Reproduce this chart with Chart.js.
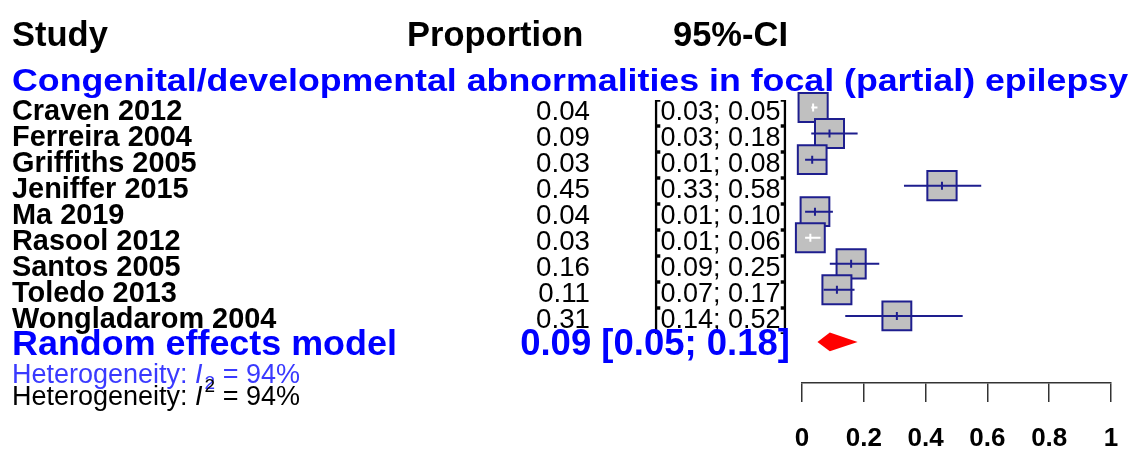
<!DOCTYPE html>
<html>
<head>
<meta charset="utf-8">
<script src="https://cdn.jsdelivr.net/npm/chart.js"></script>
<style>
  html, body { margin: 0; padding: 0; background: #fff; }
  canvas { display: block; }
</style>
</head>
<body>
<canvas id="forest" width="1141" height="449"></canvas>
<script>
// study data
const studies = ['Craven 2012', 'Ferreira 2004', 'Griffiths 2005', 'Jeniffer 2015', 'Ma 2019',
                 'Rasool 2012', 'Santos 2005', 'Toledo 2013', 'Wongladarom 2004'];
const proportions = [0.036, 0.089, 0.033, 0.453, 0.042, 0.027, 0.159, 0.113, 0.307];
const ciLower = [0.03, 0.03, 0.01, 0.33, 0.01, 0.01, 0.09, 0.07, 0.14];
const ciUpper = [0.05, 0.18, 0.08, 0.58, 0.10, 0.06, 0.25, 0.17, 0.52];
const weights = [11.2, 11.1, 10.9, 11.3, 10.9, 11.0, 11.2, 11.1, 11.0];

const pooled = { est: 0.09, lower: 0.05, upper: 0.18 };
const heterogeneityI2 = 94;

const xTicks = [0, 0.2, 0.4, 0.6, 0.8, 1];
const xTickLabels = ['0', '0.2', '0.4', '0.6', '0.8', '1'];

const FONT = '"Liberation Sans", Arial, sans-serif';
const NAVY = '#1e1e8e';
const BLUE = '#0000ff';

const summaryRow = studies.length;

const fmt = v => v.toFixed(2);

function drawText(ctx, str, x, y, opts) {
    ctx.save();
    ctx.font = opts.font;
    ctx.fillStyle = opts.color || '#000';
    ctx.textBaseline = 'alphabetic';
    ctx.textAlign = opts.align || 'left';
    let sx = 1;
    if (opts.width) {
        sx = opts.width / ctx.measureText(str).width;
    }
    ctx.translate(x, y);
    ctx.scale(sx, 1);
    ctx.fillText(str, 0, 0);
    ctx.restore();
}

// heterogeneity line: "Heterogeneity: I^2 = 94%" with sub or superscript
function drawHetero(ctx, x, y, color, sub) {
    const size = 27;
    ctx.save();
    ctx.fillStyle = color;
    ctx.textBaseline = 'alphabetic';
    ctx.font = size + 'px ' + FONT;
    let cx = x;
    const first = 'Heterogeneity: ';
    ctx.fillText(first, cx, y);
    cx += ctx.measureText(first).width;
    ctx.font = 'italic ' + size + 'px ' + FONT;
    ctx.fillText('I', cx, y);
    cx += ctx.measureText('I').width + 2;
    ctx.font = Math.round(size * 0.7) + 'px ' + FONT;
    ctx.fillText('2', cx, sub ? y + 6 : y - 13);
    cx += ctx.measureText('2').width;
    ctx.font = size + 'px ' + FONT;
    ctx.fillText(' = ' + heterogeneityI2 + '%', cx, y);
    ctx.restore();
}

const textPlugin = {
    id: 'forestText',
    beforeDatasetsDraw(chart) {
        const ctx = chart.ctx;
        const y = chart.scales.y;

        // column headers
        const hFont = 'bold 34.5px ' + FONT;
        drawText(ctx, 'Study', 12, 46, { font: hFont });
        drawText(ctx, 'Proportion', 407, 46, { font: hFont });
        drawText(ctx, '95%-CI', 788, 46, { font: hFont, align: 'right' });

        // subgroup title
        drawText(ctx, 'Congenital/developmental abnormalities in focal (partial) epilepsy', 12, 91,
                 { font: 'bold 32px ' + FONT, color: BLUE, width: 1116 });

        studies.forEach((name, i) => {
            const base = y.getPixelForValue(i) + 12;
            drawText(ctx, name, 12, base, { font: 'bold 28.9px ' + FONT });
            drawText(ctx, fmt(proportions[i]), 590, base, { font: '27.7px ' + FONT, align: 'right' });
            drawText(ctx, '[' + fmt(ciLower[i]) + '; ' + fmt(ciUpper[i]) + ']', 788, base,
                     { font: '27px ' + FONT, align: 'right' });
        });

        const sBase = y.getPixelForValue(summaryRow) + 13;
        drawText(ctx, 'Random effects model', 12, sBase, { font: 'bold 35.9px ' + FONT, color: BLUE });
        drawText(ctx, fmt(pooled.est) + ' [' + fmt(pooled.lower) + '; ' + fmt(pooled.upper) + ']', 790, sBase,
                 { font: 'bold 36.5px ' + FONT, color: BLUE, align: 'right' });

        drawHetero(ctx, 12, 383, '#3a3aff', true);
        drawHetero(ctx, 12, 405, '#000', false);
    }
};

const whiskerPlugin = {
    id: 'forestWhiskers',
    afterDatasetsDraw(chart) {
        const ctx = chart.ctx;
        const x = chart.scales.x;
        const y = chart.scales.y;
        const meta = chart.getDatasetMeta(0);

        ctx.save();
        ctx.lineWidth = 2;
        studies.forEach((name, i) => {
            const py = y.getPixelForValue(i);
            const x0 = x.getPixelForValue(ciLower[i]);
            const x1 = x.getPixelForValue(ciUpper[i]);
            const px = x.getPixelForValue(proportions[i]);
            const half = meta.data[i].options.radius * Math.SQRT1_2;
            const inside = x0 >= px - half && x1 <= px + half;
            ctx.strokeStyle = inside ? '#ffffff' : NAVY;
            ctx.beginPath();
            ctx.moveTo(x0, py);
            ctx.lineTo(x1, py);
            ctx.moveTo(px, py - 4);
            ctx.lineTo(px, py + 4);
            ctx.stroke();
        });

        // pooled diamond
        const dy = y.getPixelForValue(summaryRow);
        const h = y.getPixelForValue(summaryRow + 0.36) - dy;
        ctx.fillStyle = '#ff0000';
        ctx.beginPath();
        ctx.moveTo(x.getPixelForValue(pooled.lower), dy);
        ctx.lineTo(x.getPixelForValue(pooled.est), dy - h);
        ctx.lineTo(x.getPixelForValue(pooled.upper), dy);
        ctx.lineTo(x.getPixelForValue(pooled.est), dy + h);
        ctx.closePath();
        ctx.fill();
        ctx.restore();
    }
};

const boxData = proportions.map((p, i) => ({ x: p, y: i }));
const boxRadius = weights.map(w => 29 * Math.sqrt(w / 11.1) / (2 * Math.SQRT1_2));

new Chart(document.getElementById('forest'), {
    type: 'scatter',
    data: {
        datasets: [{
            data: boxData,
            pointStyle: 'rect',
            pointRadius: boxRadius,
            backgroundColor: '#c0c0c0',
            borderColor: NAVY,
            borderWidth: 2,
            clip: false
        }]
    },
    options: {
        responsive: false,
        animation: false,
        layout: { padding: { left: 802, right: 30, top: 10, bottom: 0 } },
        plugins: { legend: { display: false }, tooltip: { enabled: false } },
        scales: {
            x: {
                type: 'linear',
                min: 0,
                max: 1,
                afterBuildTicks: scale => { scale.ticks = xTicks.map(v => ({ value: v })); },
                afterFit: scale => { scale.height = 66; },
                ticks: {
                    color: '#000',
                    padding: 21,
                    maxRotation: 0,
                    font: { family: FONT, size: 26, weight: 'bold' },
                    callback: (v, idx) => xTickLabels[idx]
                },
                grid: { drawOnChartArea: false, tickLength: 19, color: '#333', lineWidth: 1.5 },
                border: { display: true, color: '#333', width: 1.5 }
            },
            y: {
                type: 'linear',
                display: false,
                reverse: true,
                min: -3.257,
                max: 10.575
            }
        }
    },
    plugins: [textPlugin, whiskerPlugin]
});
</script>
</body>
</html>
